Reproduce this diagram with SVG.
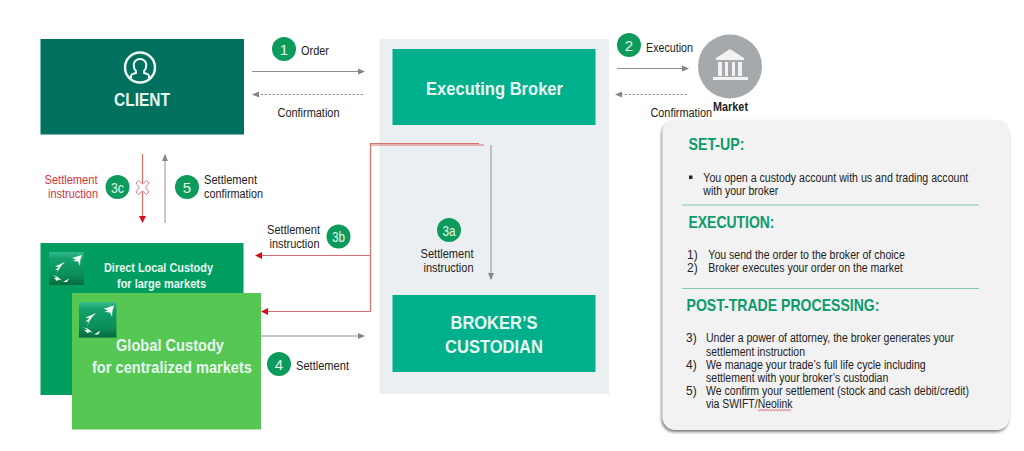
<svg xmlns="http://www.w3.org/2000/svg" width="1024" height="451" viewBox="0 0 1024 451">
<style>
text{font-family:"Liberation Sans",Arial,sans-serif}
.lbl{font-size:12.500px;fill:#222}
.red{fill:#d8323f}
.num{font-size:15px;fill:#e6f5ee;text-anchor:middle}
.badge{fill:#0c9b5c}
.ttl{font-weight:bold;fill:#e8f7f2}
.gl{stroke:#8f8f8f;stroke-width:1;fill:none}
.gd{stroke:#9a9a9a;stroke-width:1;stroke-dasharray:2.500 1.500;fill:none}
.pk{stroke:#d9706c;stroke-width:1.200;fill:none}
.h{font-size:17px;font-weight:bold;fill:#0c9b6c}
.b{font-size:12px;fill:#222}
.sep{stroke:#7fc8b8;stroke-width:1}
</style>
<defs>
<marker id="ag" markerWidth="7" markerHeight="7" refX="6" refY="3.500" orient="auto" markerUnits="userSpaceOnUse"><path d="M0 0.500L7 3.500L0 6.500Z" fill="#858585"/></marker>
<marker id="ar" markerWidth="7" markerHeight="7" refX="6" refY="3.500" orient="auto" markerUnits="userSpaceOnUse"><path d="M0 0L7 3.500L0 7Z" fill="#d0101f"/></marker>
<linearGradient id="lg" x1="0" y1="0" x2="0" y2="1"><stop offset="0" stop-color="#35b98e"/><stop offset="0.2" stop-color="#12a06c"/><stop offset="0.7" stop-color="#0a8f58"/><stop offset="1" stop-color="#056a3c"/></linearGradient>
<g id="logo">
<rect width="35" height="33" fill="url(#lg)"/>
<path d="M33 3L23 6L27 7.500L24 9L29 9.500L31 14Q30.500 8 33 3Z" fill="#f4fff8"/>
<path d="M16 10L6 14.500L10 15L6 18L9 18L7 24Q10 15 16 10Z" fill="#f4fff8"/>
<path d="M3 23L8 25.500L5 26L8 29L10 27.500L13 28.500L8 24.500Z" fill="#f4fff8"/>
<path d="M14 30L20 26.500L18 30Z" fill="#f4fff8"/>
</g>
<filter id="sh" x="-5%" y="-5%" width="110%" height="110%"><feDropShadow dx="-1" dy="2" stdDeviation="1.500" flood-color="#555" flood-opacity="0.8"/></filter>
</defs>

<g id="broker-zone"><rect x="379.500" y="39" width="229.500" height="355" fill="#ebeff1"/></g>

<g id="client">
<rect x="40.500" y="39" width="203.500" height="95.500" fill="#00715f"/>
<circle cx="140" cy="67.500" r="15" fill="none" stroke="#eef8f5" stroke-width="2.500"/>
<path d="M131 79L131 76Q131 74 136 73L136 71Q133 68 134 63Q136 59 140 59Q144 59 146 63Q147 68 144 71L144 73Q149 74 149 76L149 79" fill="none" stroke="#eef8f5" stroke-width="2"/>
<text x="114" y="105.500" class="ttl" font-size="18" textLength="56" lengthAdjust="spacingAndGlyphs">CLIENT</text>
</g>

<g id="executing-broker">
<rect x="392.500" y="49" width="203" height="76" fill="#00b08c"/>
<text x="426" y="95" class="ttl" font-size="19" textLength="137" lengthAdjust="spacingAndGlyphs">Executing Broker</text>
</g>

<g id="brokers-custodian">
<rect x="392.500" y="295" width="203" height="77" fill="#00b08c"/>
<text x="450.500" y="329" class="ttl" font-size="19" textLength="87" lengthAdjust="spacingAndGlyphs">BROKER’S</text>
<text x="445" y="352.500" class="ttl" font-size="19" textLength="98" lengthAdjust="spacingAndGlyphs">CUSTODIAN</text>
</g>

<g id="market">
<circle cx="730" cy="66.500" r="32" fill="#a5a9ab"/>
<path d="M730 49L716 58L716 60L744 60L744 58Z" fill="#f2f2f2"/>
<path d="M718 62h4v14h-4zM725 62h3v14h-3zM732 62h3v14h-3zM738 62h4v14h-4z" fill="#f2f2f2"/>
<rect x="713" y="77" width="35" height="3" fill="#f2f2f2"/>
<text x="713" y="111" font-size="12" font-weight="bold" fill="#222" textLength="35" lengthAdjust="spacingAndGlyphs">Market</text>
</g>

<g id="direct-custody">
<rect x="40.500" y="243" width="203" height="152" fill="#009d5e"/>
<use href="#logo" x="49" y="252"/>
<text x="104" y="271.500" class="ttl" font-size="13" textLength="109" lengthAdjust="spacingAndGlyphs">Direct Local Custody</text>
<text x="117" y="287.500" class="ttl" font-size="13" textLength="89" lengthAdjust="spacingAndGlyphs">for large markets</text>
</g>

<g id="global-custody">
<rect x="72" y="293" width="189" height="136.500" fill="#55c752"/>
<use href="#logo" transform="translate(79 302.300) scale(1.070)"/>
<text x="116" y="351" class="ttl" font-size="17" textLength="108" lengthAdjust="spacingAndGlyphs">Global Custody</text>
<text x="92" y="372.500" class="ttl" font-size="17" textLength="160" lengthAdjust="spacingAndGlyphs">for centralized markets</text>
</g>

<g id="connectors">
<path class="gl" d="M252 71.500H364" marker-end="url(#ag)"/>
<path class="gd" d="M363 94.500H253" marker-end="url(#ag)"/>
<path class="gl" d="M617 68.500H688" marker-end="url(#ag)"/>
<path class="gd" d="M687 94.500H616" marker-end="url(#ag)"/>
<path class="pk" d="M142.500 154V222" marker-end="url(#ar)"/>
<path class="gl" d="M165 223V155" marker-end="url(#ag)"/>
<path class="gl" d="M491 145V279" marker-end="url(#ag)"/>
<path class="pk" d="M484 145H371"/>
<path class="pk" d="M479 143.500H370.500V311.500H262" marker-end="url(#ar)"/>
<path class="pk" d="M370.500 255.500H256" marker-end="url(#ar)"/>
<path class="gl" d="M261 336H364" marker-end="url(#ag)"/>
<path d="M136 183l2.500-2.500 4 3.500 4-3.500 2.500 2.500-3.500 4.500 3.500 4.500-2.500 2.500-4-3.500-4 3.500-2.500-2.500 3.500-4.500z" fill="#fff" stroke="#e0808a" stroke-width="1"/>
</g>

<g id="labels">
<circle class="badge" cx="284" cy="49" r="12"/><text class="num" x="284" y="54.500">1</text>
<text class="lbl" x="301" y="55" textLength="28" lengthAdjust="spacingAndGlyphs">Order</text>
<text class="lbl" x="277.500" y="117" textLength="62" lengthAdjust="spacingAndGlyphs">Confirmation</text>
<circle class="badge" cx="629" cy="45" r="12"/><text class="num" x="629" y="50.500">2</text>
<text class="lbl" x="646" y="52" textLength="47" lengthAdjust="spacingAndGlyphs">Execution</text>
<text class="lbl" x="650.500" y="117" textLength="61.500" lengthAdjust="spacingAndGlyphs">Confirmation</text>
<text class="lbl red" x="44.500" y="184" textLength="53" lengthAdjust="spacingAndGlyphs">Settlement</text>
<text class="lbl red" x="48" y="198" textLength="50" lengthAdjust="spacingAndGlyphs">instruction</text>
<circle class="badge" cx="117.500" cy="187" r="12"/><text class="num" x="117.500" y="192.500" textLength="13" lengthAdjust="spacingAndGlyphs">3c</text>
<circle class="badge" cx="187" cy="187" r="12"/><text class="num" x="187" y="192.500">5</text>
<text class="lbl" x="204" y="184" textLength="53" lengthAdjust="spacingAndGlyphs">Settlement</text>
<text class="lbl" x="204" y="198" textLength="59" lengthAdjust="spacingAndGlyphs">confirmation</text>
<text class="lbl" x="267" y="234" textLength="53" lengthAdjust="spacingAndGlyphs">Settlement</text>
<text class="lbl" x="269.500" y="248" textLength="50" lengthAdjust="spacingAndGlyphs">instruction</text>
<circle class="badge" cx="338.500" cy="236.500" r="12"/><text class="num" x="338.500" y="242" textLength="13" lengthAdjust="spacingAndGlyphs">3b</text>
<circle class="badge" cx="449" cy="230" r="12"/><text class="num" x="449" y="235.500" textLength="13" lengthAdjust="spacingAndGlyphs">3a</text>
<text class="lbl" x="420.500" y="258" textLength="53" lengthAdjust="spacingAndGlyphs">Settlement</text>
<text class="lbl" x="423.500" y="272" textLength="50" lengthAdjust="spacingAndGlyphs">instruction</text>
<circle class="badge" cx="279" cy="364" r="12"/><text class="num" x="279" y="369.500">4</text>
<text class="lbl" x="296" y="370" textLength="53" lengthAdjust="spacingAndGlyphs">Settlement</text>
</g>

<g id="info-panel">
<rect x="662.500" y="120" width="347" height="310" rx="13" fill="#f2f2f2" filter="url(#sh)"/>
<text class="h" x="688.500" y="150" textLength="56" lengthAdjust="spacingAndGlyphs">SET-UP:</text>
<rect x="689" y="175.500" width="3.500" height="3.500" fill="#222"/>
<text class="b" x="703.300" y="181.500" textLength="265" lengthAdjust="spacingAndGlyphs">You open a custody account with us and trading account</text>
<text class="b" x="703.300" y="195" textLength="75" lengthAdjust="spacingAndGlyphs">with your broker</text>
<line class="sep" x1="682" y1="205" x2="979" y2="205"/>
<text class="h" x="688.500" y="228" textLength="86" lengthAdjust="spacingAndGlyphs">EXECUTION:</text>
<text class="b" x="687" y="259">1)</text><text class="b" x="708.300" y="259" textLength="196.500" lengthAdjust="spacingAndGlyphs">You send the order to the broker of choice</text>
<text class="b" x="687" y="272">2)</text><text class="b" x="708.300" y="272" textLength="194.500" lengthAdjust="spacingAndGlyphs">Broker executes your order on the market</text>
<line class="sep" x1="682" y1="288.500" x2="979" y2="288.500"/>
<text class="h" x="686.500" y="311" textLength="193" lengthAdjust="spacingAndGlyphs">POST-TRADE PROCESSING:</text>
<text class="b" x="686" y="342">3)</text><text class="b" x="706" y="342" textLength="248" lengthAdjust="spacingAndGlyphs">Under a power of attorney, the broker generates your</text>
<text class="b" x="706" y="355.500" textLength="99" lengthAdjust="spacingAndGlyphs">settlement instruction</text>
<text class="b" x="686" y="368.500">4)</text><text class="b" x="706" y="368.500" textLength="219.700" lengthAdjust="spacingAndGlyphs">We manage your trade’s full life cycle including</text>
<text class="b" x="706" y="381.500" textLength="182.300" lengthAdjust="spacingAndGlyphs">settlement with your broker’s custodian</text>
<text class="b" x="686" y="394.500">5)</text><text class="b" x="706" y="394.500" textLength="263" lengthAdjust="spacingAndGlyphs">We confirm your settlement (stock and cash debit/credit)</text>
<text class="b" x="706" y="407.500" textLength="86.500" lengthAdjust="spacingAndGlyphs">via SWIFT/Neolink</text>
<path d="M758 409.500l1.500 1.200 1.500-1.200 1.500 1.200 1.500-1.200 1.500 1.200 1.500-1.200 1.500 1.200 1.500-1.200 1.500 1.200 1.500-1.200 1.500 1.200 1.500-1.200 1.500 1.200 1.500-1.200 1.500 1.200 1.500-1.200 1.500 1.200 1.500-1.200 1.500 1.200 1.500-1.200 1.500 1.200 1.500-1.200" fill="none" stroke="#d8222f" stroke-width="0.700"/>
</g>
</svg>
